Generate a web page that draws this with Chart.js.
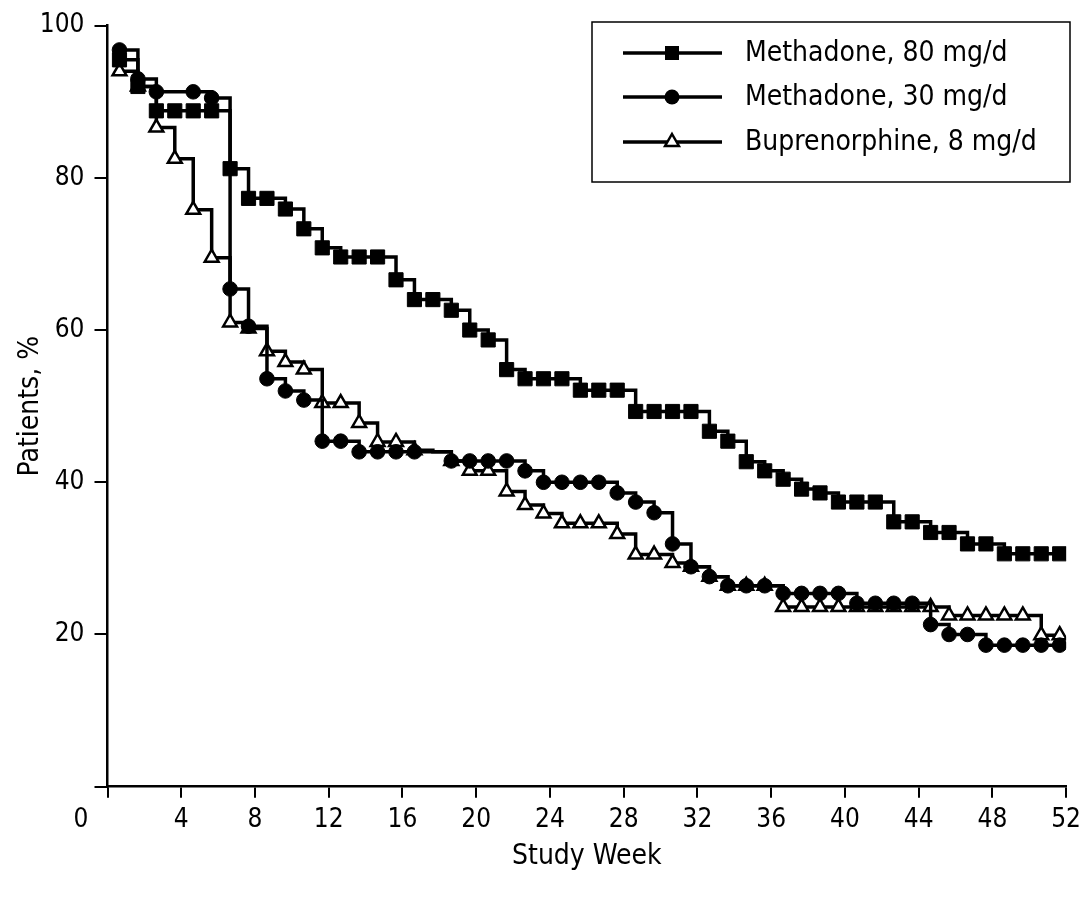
<!DOCTYPE html>
<html><head><meta charset="utf-8">
<script src="https://cdn.jsdelivr.net/npm/chart.js@4.4.0/dist/chart.umd.min.js"></script>
<style>html,body{margin:0;padding:0;background:#fff;}#wrap{position:relative;width:1088px;height:900px;}</style>
</head><body><div id="wrap"><canvas id="c" width="1088" height="900"></canvas></div>
<script>
// Study weeks at which each curve value is plotted
const weeks = [0.65,1.65,2.65,3.65,4.65,5.65,6.65,7.65,8.65,9.65,10.65,11.65,12.65,13.65,14.65,15.65,16.65,17.65,18.65,19.65,20.65,21.65,22.65,23.65,24.65,25.65,26.65,27.65,28.65,29.65,30.65,31.65,32.65,33.65,34.65,35.65,36.65,37.65,38.65,39.65,40.65,41.65,42.65,43.65,44.65,45.65,46.65,47.65,48.65,49.65,50.65,51.65];
// Patients retained, %
const methadone80 = [95.5,92.0,88.8,88.8,88.8,88.8,81.2,77.3,77.3,75.9,73.3,70.8,69.6,69.6,69.6,66.6,64.0,64.0,62.6,60.0,58.7,54.8,53.6,53.6,53.6,52.1,52.1,52.1,49.3,49.3,49.3,49.3,46.7,45.4,42.7,41.5,40.4,39.1,38.6,37.4,37.4,37.4,34.8,34.8,33.4,33.4,31.9,31.9,30.6,30.6,30.6,30.6];
const methadone30 = [96.8,93.0,91.3,91.3,91.3,90.5,65.4,60.5,53.6,52.0,50.8,45.4,45.4,44.0,44.0,44.0,44.0,44.0,42.8,42.8,42.8,42.8,41.5,40.0,40.0,40.0,40.0,38.6,37.4,36.0,31.9,28.9,27.6,26.4,26.4,26.4,25.4,25.4,25.4,25.4,24.1,24.1,24.1,24.1,21.3,20.0,20.0,18.6,18.6,18.6,18.6,18.6];
const buprenorphine8 = [94.0,92.0,86.6,82.5,75.8,69.5,61.0,60.2,57.2,55.8,54.8,50.4,50.4,47.8,45.3,45.3,44.2,44.0,42.8,41.5,41.5,38.8,37.0,35.9,34.6,34.6,34.6,33.2,30.5,30.5,29.4,28.9,27.6,26.4,26.4,26.4,23.6,23.6,23.6,23.6,23.6,23.6,23.6,23.6,23.6,22.5,22.5,22.5,22.5,22.5,19.9,19.9];
const seriesNames = ['Methadone, 80 mg/d','Methadone, 30 mg/d','Buprenorphine, 8 mg/d'];
const xTicks = [0,4,8,12,16,20,24,28,32,36,40,44,48,52];
const yTicks = [0,20,40,60,80,100];
// indices with no marker drawn
const noMarker30 = [3,17];
const noMarkerBup = [17];

const FONT = "'Liberation Sans Narrow','DejaVu Sans Condensed','Liberation Sans',sans-serif";
const pts = arr => weeks.map((w,i)=>({x:w,y:arr[i]}));

function drawMarker(ctx, style, x, y){
  ctx.save();
  if(style==='rect'){ctx.fillStyle='#000';ctx.fillRect(x-7,y-7,14,14);}
  else if(style==='circle'){ctx.fillStyle='#000';ctx.beginPath();ctx.arc(x,y,7.5,0,Math.PI*2);ctx.fill();}
  else {ctx.fillStyle='#fff';ctx.strokeStyle='#000';ctx.lineWidth=2.5;ctx.beginPath();
    const r=8;ctx.moveTo(x,y-r);ctx.lineTo(x+r*0.866,y+r*0.5);ctx.lineTo(x-r*0.866,y+r*0.5);ctx.closePath();ctx.fill();ctx.stroke();}
  ctx.restore();
}

const extras = {
  id:'extras',
  afterDraw(chart){
    const ctx = chart.ctx;
    ctx.save();
    // shared origin label
    ctx.fillStyle='#000';ctx.font='26px '+FONT;ctx.textAlign='center';ctx.textBaseline='middle';
    ctx.fillText('0',81,820);
    // legend
    ctx.strokeStyle='#000';ctx.lineWidth=1.5;ctx.strokeRect(592,22,478,160);
    const rows=[53,97,142]; const styles=['rect','circle','triangle'];
    ctx.font='28px '+FONT;ctx.textAlign='left';
    rows.forEach((ry,i)=>{
      ctx.lineWidth=3.5;ctx.beginPath();ctx.moveTo(623,ry);ctx.lineTo(722,ry);ctx.stroke();
      drawMarker(ctx,styles[i],672,ry);
      ctx.fillStyle='#000';ctx.fillText(seriesNames[i],745,ry+1);
    });
    ctx.restore();
  }
};

new Chart(document.getElementById('c'),{
  type:'line',
  data:{datasets:[
    {label:seriesNames[0],data:pts(methadone80),stepped:'before',borderColor:'#000',borderWidth:3.5,
     pointStyle:'rect',pointRadius:10,pointBackgroundColor:'#000',pointBorderColor:'#000',pointBorderWidth:1},
    {label:seriesNames[1],data:pts(methadone30),stepped:'before',borderColor:'#000',borderWidth:3.5,
     pointStyle:'circle',pointRadius:c=>noMarker30.includes(c.dataIndex)?0:7.3,pointBackgroundColor:'#000',pointBorderColor:'#000',pointBorderWidth:1},
    {label:seriesNames[2],data:pts(buprenorphine8),stepped:'before',borderColor:'#000',borderWidth:3.5,
     pointStyle:'triangle',pointRadius:c=>noMarkerBup.includes(c.dataIndex)?0:8,pointBackgroundColor:'#fff',pointBorderColor:'#000',pointBorderWidth:2.5}
  ]},
  options:{
    responsive:false,animation:false,devicePixelRatio:1,
    layout:{padding:{top:22.7,right:17,left:0,bottom:0}},
    plugins:{legend:{display:false},tooltip:{enabled:false}},
    elements:{line:{tension:0}},
    scales:{
      x:{type:'linear',min:0,max:52,
        afterBuildTicks:s=>{s.ticks=xTicks.map(v=>({value:v}));},
        afterFit:s=>{s.height=113.3;},
        ticks:{callback:v=>v===0?'':String(v),color:'#000',font:{family:FONT,size:26},padding:7,maxRotation:0,autoSkip:false},
        grid:{drawOnChartArea:false,drawTicks:true,tickLength:11,color:'#000',lineWidth:2},
        border:{display:true,color:'#000',width:2.5},
        title:{display:true,text:'Study Week',color:'#000',font:{family:FONT,size:28},padding:{top:0,bottom:26}}
      },
      y:{type:'linear',min:0,max:100,
        afterBuildTicks:s=>{s.ticks=yTicks.map(v=>({value:v}));},
        afterFit:s=>{s.width=107.5;},
        ticks:{callback:v=>v===0?'':String(v),color:'#000',font:{family:FONT,size:26},padding:10},
        grid:{drawOnChartArea:false,drawTicks:true,tickLength:13,color:'#000',lineWidth:2},
        border:{display:true,color:'#000',width:2.5},
        title:{display:true,text:'Patients, %',color:'#000',font:{family:FONT,size:28},padding:{top:14,bottom:0}}
      }
    }
  },
  plugins:[extras]
});
</script></body></html>
